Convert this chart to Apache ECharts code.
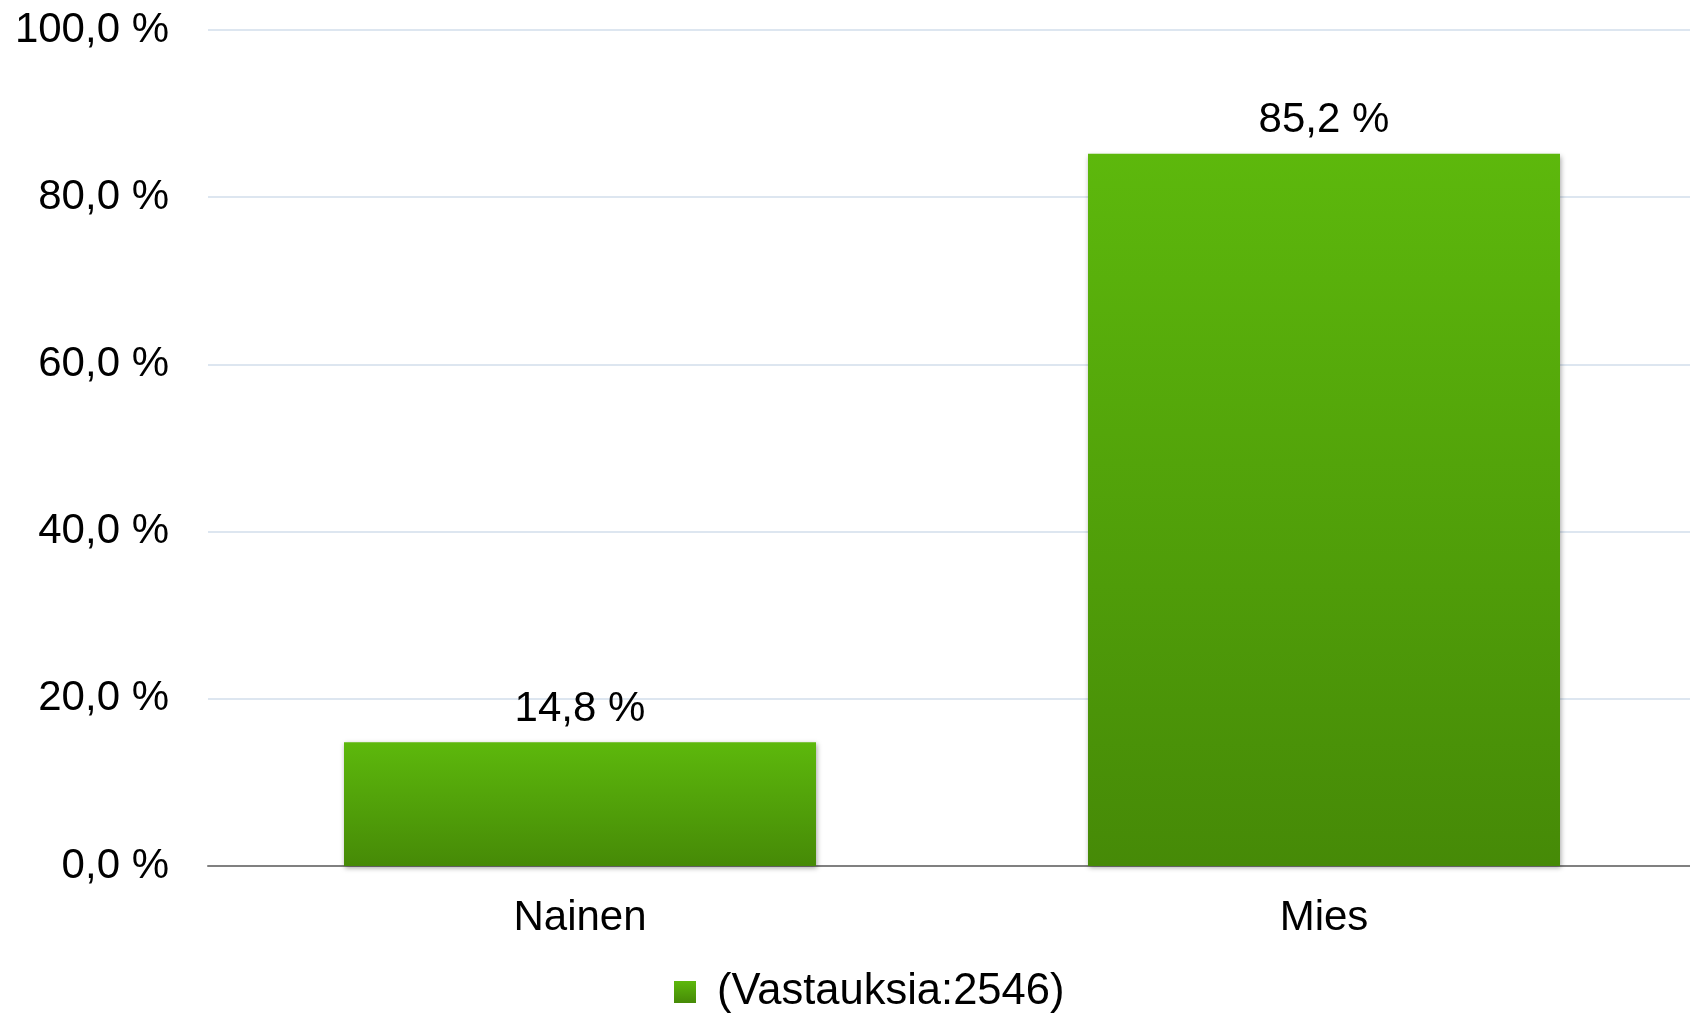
<!DOCTYPE html>
<html>
<head>
<meta charset="utf-8">
<script src="https://cdn.jsdelivr.net/npm/echarts@6/dist/echarts.min.js"></script>
<style>
  html, body { margin: 0; padding: 0; background: #fff; }
  #chart { width: 1690px; height: 1014px; }
</style>
</head>
<body>
<div id="chart"></div>
<script>
// data
const categories = ['Nainen', 'Mies']
const values = [14.8, 85.2]
const seriesName = '(Vastauksia:2546)'

const fmt = v => v.toFixed(1).replace('.', ',') + ' %'
const font = 'Liberation Sans, Arial, sans-serif'

var chart = echarts.init(document.getElementById('chart'))

const barColor = new echarts.graphic.LinearGradient(0, 0, 0, 1, [
    {offset: 0, color: '#5db80c'},
    {offset: 1, color: '#468a07'}
])

chart.setOption({
    animation: false,
    // plot runs a little past the right edge of the canvas
    grid: {left: 208, width: 1488, top: 30, bottom: 148, outerBoundsMode: 'none'},
    legend: {
        data: [{name: seriesName, icon: 'rect'}],
        left: 669,
        top: 965,
        padding: 5,
        itemWidth: 22,
        itemHeight: 22,
        textStyle: {fontFamily: font, fontSize: 43.5, color: '#000', padding: [0, 0, 0, 16]}
    },
    xAxis: {
        type: 'category',
        data: categories,
        axisTick: {show: false},
        axisLine: {lineStyle: {color: '#808080', width: 2}},
        axisLabel: {fontFamily: font, fontSize: 42, color: '#000', margin: 31}
    },
    yAxis: {
        type: 'value',
        min: 0,
        max: 100,
        interval: 20,
        axisLine: {show: false},
        axisTick: {show: false},
        axisLabel: {fontFamily: font, fontSize: 42, color: '#000', margin: 39, formatter: fmt},
        splitLine: {lineStyle: {color: '#dde6f0', width: 2}}
    },
    series: [{
        name: seriesName,
        type: 'bar',
        data: values,
        barWidth: 472,
        itemStyle: {
            color: barColor,
            shadowColor: 'rgba(0,0,0,0.35)',
            shadowBlur: 5,
            shadowOffsetX: 1,
            shadowOffsetY: 2
        },
        label: {
            show: true,
            position: 'top',
            distance: 12,
            fontFamily: font,
            fontSize: 42,
            color: '#000',
            formatter: p => fmt(p.value)
        }
    }]
})
</script>
</body>
</html>
